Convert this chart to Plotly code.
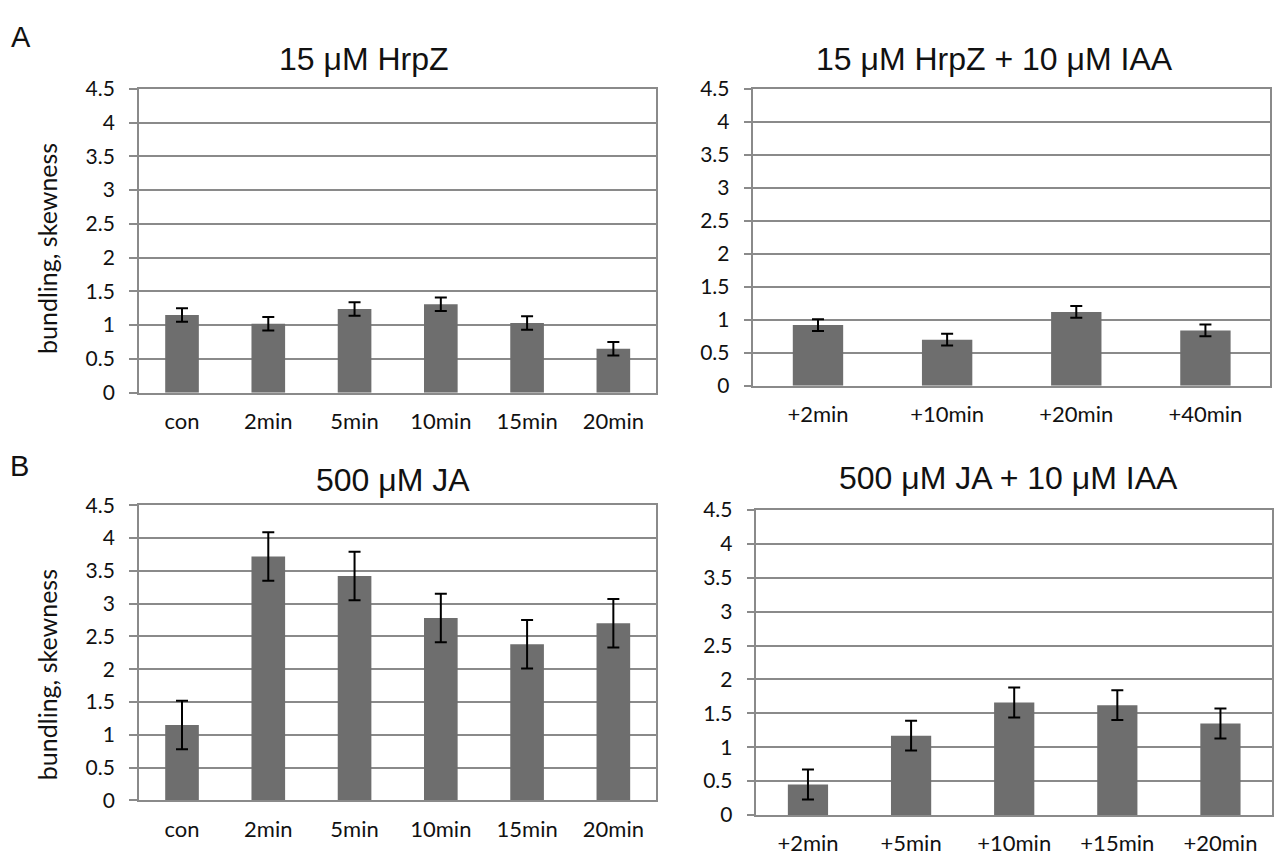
import plotly.graph_objects as go

# ---- data ----
cats_a1 = ["con", "2min", "5min", "10min", "15min", "20min"]
vals_a1 = [1.15, 1.02, 1.24, 1.31, 1.03, 0.65]
errs_a1 = [0.10, 0.10, 0.10, 0.10, 0.10, 0.10]

cats_a2 = ["+2min", "+10min", "+20min", "+40min"]
vals_a2 = [0.92, 0.70, 1.12, 0.84]
errs_a2 = [0.09, 0.09, 0.09, 0.09]

cats_b1 = ["con", "2min", "5min", "10min", "15min", "20min"]
vals_b1 = [1.15, 3.72, 3.42, 2.78, 2.38, 2.70]
errs_b1 = [0.37, 0.37, 0.37, 0.37, 0.37, 0.37]

cats_b2 = ["+2min", "+5min", "+10min", "+15min", "+20min"]
vals_b2 = [0.45, 1.17, 1.66, 1.62, 1.35]
errs_b2 = [0.22, 0.22, 0.22, 0.22, 0.22]

titles = ["15 μM HrpZ", "15 μM HrpZ + 10 μM IAA", "500 μM JA", "500 μM JA + 10 μM IAA"]
y_ticks = [0, 0.5, 1, 1.5, 2, 2.5, 3, 3.5, 4, 4.5]
y_tick_text = ["0", "0.5", "1", "1.5", "2", "2.5", "3", "3.5", "4", "4.5"]
y_title = "bundling, skewness"

W, H = 1274, 858
BAR = "#6e6e6e"
GRID = "#8a8a8a"
FAM = "Lato, Carlito, Calibri, sans-serif"
YTICKFONT = dict(family=FAM, size=21, color="#111111")
XTICKFONT = dict(family=FAM, size=22, color="#111111")
TITLEFONT = dict(family="Liberation Sans, Arial, sans-serif", size=32, color="#111111")

panels = [
    (cats_a1, vals_a1, errs_a1, (139, 657), (77, 390)),
    (cats_a2, vals_a2, errs_a2, (754, 1271), (77, 383)),
    (cats_b1, vals_b1, errs_b1, (139, 657), (506, 810)),
    (cats_b2, vals_b2, errs_b2, (757, 1273), (511, 825)),
]

fig = go.Figure()
layout = dict(
    width=W, height=H,
    margin=dict(l=0, r=0, t=0, b=0),
    paper_bgcolor="white", plot_bgcolor="white",
    showlegend=False, bargap=0.61,
)

for i, (cats, vals, errs, (x0, x1), (ytop, ybot)) in enumerate(panels):
    n = "" if i == 0 else str(i + 1)
    fig.add_trace(go.Bar(
        x=cats, y=vals,
        marker=dict(color=BAR, line=dict(width=0)),
        error_y=dict(type="data", array=errs, color="black", thickness=2, width=6),
        xaxis="x" + n, yaxis="y" + n,
    ))
    layout["xaxis" + n] = dict(
        domain=[x0 / W, x1 / W], anchor="y" + n,
        showline=True, linecolor=GRID, linewidth=1.5, mirror=True,
        showgrid=False, ticks="", tickfont=XTICKFONT, ticklabelstandoff=8,
        fixedrange=True,
    )
    layout["yaxis" + n] = dict(
        domain=[1 - ybot / H, 1 - ytop / H], anchor="x" + n,
        range=[0, 4.5], tickvals=y_ticks, ticktext=y_tick_text,
        showline=True, linecolor=GRID, linewidth=1.5, mirror=True,
        showgrid=True, gridcolor=GRID, gridwidth=1.5, zeroline=False,
        ticks="outside", ticklen=8, tickcolor=GRID, tickwidth=1.5,
        tickfont=YTICKFONT, ticklabelstandoff=10, fixedrange=True,
    )

fig.update_layout(**layout)

# panel titles
title_pos = [(364, 46), (995, 46), (393, 480), (1009, 478)]
for t, (px, py) in zip(titles, title_pos):
    fig.add_annotation(text=t, x=px / W, y=1 - py / H, xref="paper", yref="paper",
                       showarrow=False, font=TITLEFONT, xanchor="center", yanchor="middle")

# y-axis titles
for py in (241, 680):
    fig.add_annotation(text=y_title, x=47 / W, y=1 - py / H, xref="paper", yref="paper",
                       showarrow=False, textangle=-90,
                       font=dict(family=FAM, size=25, color="#111111"),
                       xanchor="center", yanchor="middle")

# panel letters
for letter, (px, py) in (("A", (21, 24)), ("B", (20, 466))):
    fig.add_annotation(text=letter, x=px / W, y=1 - py / H, xref="paper", yref="paper",
                       showarrow=False, font=dict(family="Liberation Sans, Arial, sans-serif", size=29, color="#111111"),
                       xanchor="center", yanchor="middle")

fig.write_html(
    "out.html",
    config={"displayModeBar": False},
    post_script="document.body.style.margin='0';document.body.style.overflow='hidden';"
                "document.documentElement.style.overflow='hidden';",
)
